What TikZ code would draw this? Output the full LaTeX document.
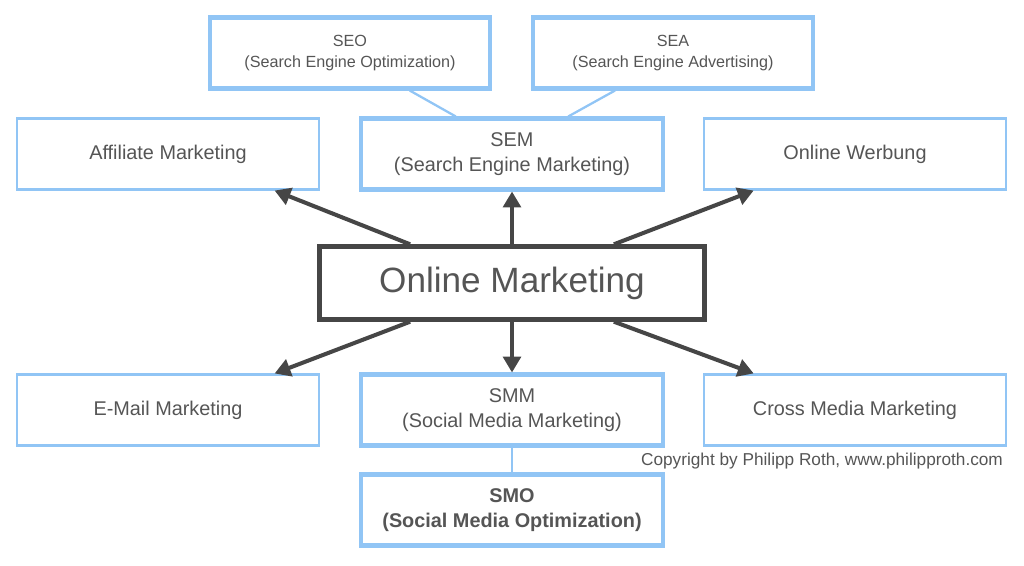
\documentclass[tikz,border=0pt]{standalone}
\usepackage{fontspec}
\setmainfont{Liberation Sans}
\usetikzlibrary{arrows.meta}
\definecolor{boxblue}{RGB}{145,197,245}
\definecolor{darkline}{RGB}{70,70,70}
\definecolor{txtgray}{RGB}{85,85,85}
\tikzset{
  mbox/.style={draw=boxblue, line width=1.2pt, minimum width=6.05cm, minimum height=1.42cm,
    align=center, text=txtgray, font=\fontsize{11.3}{14.5}\selectfont},
  mboxthick/.style={mbox, line width=2.3pt},
  sbox/.style={mboxthick, minimum width=5.6cm, font=\fontsize{9.2}{12}\selectfont},
  mainbox/.style={draw=darkline, line width=2.8pt, minimum width=7.7cm, minimum height=1.45cm,
    text=txtgray, font=\fontsize{20}{24}\selectfont},
  arr/.style={-{Triangle[length=9pt,width=10pt]}, draw=darkline, line width=2.3pt},
  link/.style={draw=boxblue, line width=1.3pt}
}
\begin{document}
\begin{tikzpicture}[x=0.02cm,y=-0.02cm]
      \useasboundingbox (0,0) rectangle (1024,565);
      \node[sbox] (seo) at (350,53) {SEO\\(Search Engine Optimization)};
      \node[sbox] (sea) at (673,53) {SEA\\(Search Engine Advertising)};

      \node[mbox] (aff) at (168,154) {Affiliate Marketing};
      \node[mboxthick] (sem) at (512,154) {SEM\\(Search Engine Marketing)};
      \node[mbox] (werb) at (855,154) {Online Werbung};

      \node[mainbox] (om) at (512,283) {Online Marketing};

      \node[mbox] (mail) at (168,410) {E-Mail Marketing};
      \node[mboxthick] (smm) at (512,410) {SMM\\(Social Media Marketing)};
      \node[mbox] (cross) at (855,410) {Cross Media Marketing};
      \node[mboxthick, font=\fontsize{11.3}{14.5}\selectfont\bfseries] (smo) at (512,510) {SMO\\(Social Media Optimization)};

      \node[text=txtgray, font=\fontsize{9.8}{11}\selectfont] (copy) at (822,461) {Copyright by Philipp Roth, www.philipproth.com};

      % connectors
      \draw[link] ([xshift=34pt]seo.south) -- ([xshift=-32pt]sem.north);
      \draw[link] ([xshift=-33pt]sea.south) -- ([xshift=32pt]sem.north);
      \draw[link] (smm) -- (smo);

      % arrows
      \draw[arr] ([xshift=-58pt]om.north) -- ([xshift=-26pt]aff.south east);
      \draw[arr] (om.north) -- (sem.south);
      \draw[arr] ([xshift=58pt]om.north) -- ([xshift=29pt]werb.south west);
      \draw[arr] ([xshift=-58pt]om.south) -- ([xshift=-26pt]mail.north east);
      \draw[arr] (om.south) -- (smm.north);
      \draw[arr] ([xshift=58pt]om.south) -- ([xshift=29pt]cross.north west);
\end{tikzpicture}
\end{document}
